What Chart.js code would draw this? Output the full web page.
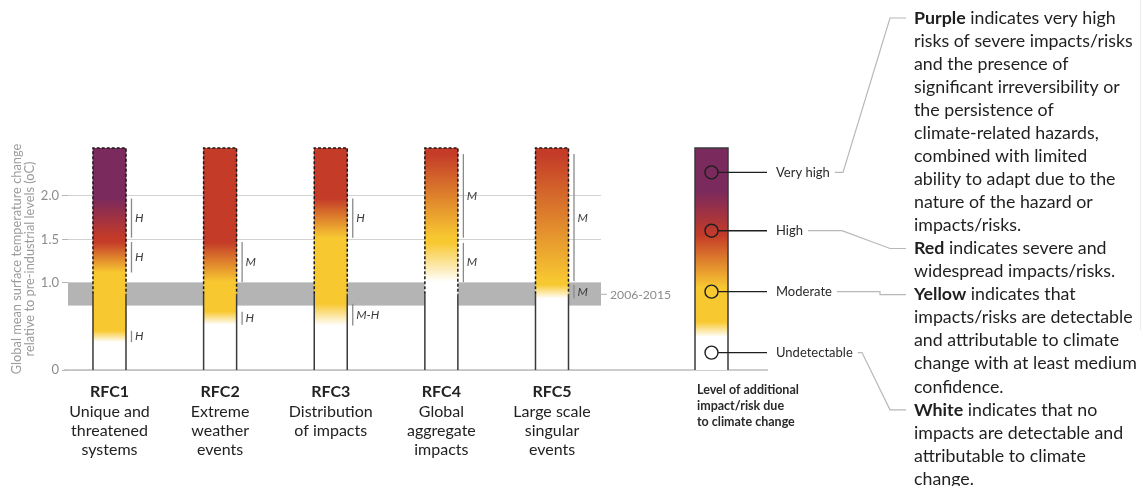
<!DOCTYPE html>
<html>
<head>
<meta charset="utf-8">
<script src="https://cdn.jsdelivr.net/npm/chart.js@4.4.1/dist/chart.umd.min.js"></script>
<style>
  html, body { margin: 0; padding: 0; background: #ffffff; }
  #wrap { position: relative; width: 1146px; height: 486px; }
</style>
</head>
<body>
<div id="wrap"><canvas id="rfc" width="1146" height="486"></canvas></div>
<script>
// Reasons for concern (RFC) and their labels
const categories = ['RFC1', 'RFC2', 'RFC3', 'RFC4', 'RFC5'];
const descriptions = [
  ['Unique and', 'threatened', 'systems'],
  ['Extreme', 'weather', 'events'],
  ['Distribution', 'of impacts'],
  ['Global', 'aggregate', 'impacts'],
  ['Large scale', 'singular', 'events']
];
// upper end of each bar (°C)
const barTop = [2.55, 2.55, 2.55, 2.55, 2.55];
// temperature ranges (°C) over which the risk level changes
const whiteToYellow = [[0.32, 0.45], [0.52, 0.67], [0.51, 0.76], [1.01, 1.46], [0.82, 0.98]];
const yellowToRed   = [[1.12, 1.47], [1.01, 1.47], [1.52, 1.97], [1.52, 2.48], [1.02, 2.48]];
const redToPurple   = [[1.52, 1.97], null, null, null, null];
// confidence in each transition
const confWhiteYellow = ['H', 'H', 'M-H', 'M', 'M'];
const confYellowRed   = ['H', 'M', 'H', 'M', 'M'];
const confRedPurple   = ['H', null, null, null, null];
// axis ticks and observed warming band
const yTicks = [0, 1.0, 1.5, 2.0];
const observedRange = [0.74, 1.0];
const observedLabel = '2006-2015';
const presentLevel = 0.87;
// risk level key
const levelNames  = ['Very high', 'High', 'Moderate', 'Undetectable'];
const levelValues = [2.27, 1.60, 0.90, 0.20];

const WHITE = '#ffffff', YELLOW = '#f8c831', RED = '#c43b28', PURPLE = '#7b2a5d';
const FONT = 'Lato, "Open Sans", sans-serif';

function riskGradient(c, yScale, i) {
  const top = barTop[i];
  const g = c.createLinearGradient(0, yScale.getPixelForValue(0), 0, yScale.getPixelForValue(top));
  const f = v => Math.min(1, Math.max(0, v / top));
  g.addColorStop(0, WHITE);
  g.addColorStop(f(whiteToYellow[i][0]), WHITE);
  g.addColorStop(f(whiteToYellow[i][1]), YELLOW);
  g.addColorStop(f(yellowToRed[i][0]), YELLOW);
  g.addColorStop(f(yellowToRed[i][1]), RED);
  if (redToPurple[i]) {
    g.addColorStop(f(redToPurple[i][0]), RED);
    g.addColorStop(f(redToPurple[i][1]), PURPLE);
    g.addColorStop(1, PURPLE);
  } else {
    g.addColorStop(1, RED);
  }
  return g;
}

const riskText = [
  { bold: 'Purple', first: ' indicates very high', rest: ['risks of severe impacts/risks', 'and the presence of', 'significant irreversibility or', 'the persistence of', 'climate-related hazards,', 'combined with limited', 'ability to adapt due to the', 'nature of the hazard or', 'impacts/risks.'] },
  { bold: 'Red', first: ' indicates severe and', rest: ['widespread impacts/risks.'] },
  { bold: 'Yellow', first: ' indicates that', rest: ['impacts/risks are detectable', 'and attributable to climate', 'change with at least medium', 'confidence.'] },
  { bold: 'White', first: ' indicates that no', rest: ['impacts are detectable and', 'attributable to climate', 'change.'] }
];

const decor = {
  id: 'rfcDecor',
  beforeDatasetsDraw(chart) {
    const { ctx, scales: { y } } = chart;
    const left = chart.chartArea.left, right = chart.chartArea.right;
    ctx.save();
    ctx.fillStyle = '#b4b4b4';
    const yA = y.getPixelForValue(observedRange[1]), yB = y.getPixelForValue(observedRange[0]);
    ctx.fillRect(left, yA, right - left, yB - yA);
    ctx.restore();
  },
  afterDatasetsDraw(chart) {
    const { ctx, scales: { y } } = chart;
    const meta = chart.getDatasetMeta(0);
    ctx.save();
    // baseline
    ctx.strokeStyle = '#bdbdbd';
    ctx.lineWidth = 1.5;
    ctx.beginPath();
    ctx.moveTo(chart.chartArea.left - 4, y.getPixelForValue(0));
    ctx.lineTo(768, y.getPixelForValue(0));
    ctx.stroke();

    meta.data.forEach((el, i) => {
      const l = el.x - el.width / 2, r = el.x + el.width / 2;
      const yb = y.getPixelForValue(0), yp = y.getPixelForValue(presentLevel), yt = y.getPixelForValue(barTop[i]);
      // solid sides up to present warming
      ctx.setLineDash([]);
      ctx.strokeStyle = '#3a3a3a';
      ctx.lineWidth = 1.5;
      ctx.beginPath();
      ctx.moveTo(l, yb); ctx.lineTo(l, yp);
      ctx.moveTo(r, yb); ctx.lineTo(r, yp);
      ctx.stroke();
      // dashed sides and top above
      ctx.setLineDash([3, 2]);
      ctx.strokeStyle = '#1a1a1a';
      ctx.beginPath();
      ctx.moveTo(l, yp); ctx.lineTo(l, yt); ctx.lineTo(r, yt); ctx.lineTo(r, yp);
      ctx.stroke();
      ctx.setLineDash([]);

      // confidence markers
      const marks = [[whiteToYellow[i], confWhiteYellow[i]], [yellowToRed[i], confYellowRed[i]], [redToPurple[i], confRedPurple[i]]];
      marks.forEach(([rng, lab]) => {
        if (!rng || !lab) return;
        const x = r + 5.5;
        const y0 = y.getPixelForValue(rng[0]), y1 = y.getPixelForValue(rng[1]);
        ctx.strokeStyle = '#8a8a8a';
        ctx.lineWidth = 1.3;
        ctx.beginPath(); ctx.moveTo(x, y0); ctx.lineTo(x, y1); ctx.stroke();
        ctx.fillStyle = '#3c3c3c';
        ctx.font = 'italic 12px ' + FONT;
        ctx.textAlign = 'left';
        ctx.textBaseline = 'middle';
        ctx.fillText(lab, x + 3.5, (y0 + y1) / 2);
      });

      // category labels
      ctx.fillStyle = '#222';
      ctx.textAlign = 'center';
      ctx.textBaseline = 'middle';
      ctx.font = 'bold 16px ' + FONT;
      ctx.fillText(categories[i], el.x, 392);
      ctx.font = '16px ' + FONT;
      descriptions[i].forEach((t, k) => ctx.fillText(t, el.x, 411.5 + k * 19));
    });

    // observed band label
    const yMid = y.getPixelForValue((observedRange[0] + observedRange[1]) / 2);
    ctx.strokeStyle = '#b0b0b0';
    ctx.lineWidth = 1;
    ctx.beginPath(); ctx.moveTo(chart.chartArea.right, yMid); ctx.lineTo(chart.chartArea.right + 6, yMid); ctx.stroke();
    ctx.fillStyle = '#8c8c8c';
    ctx.font = '12.2px ' + FONT;
    ctx.textAlign = 'left';
    ctx.fillText(observedLabel, chart.chartArea.right + 9, yMid + 1);

    // risk level key
    const kl = 695, kr = 728, kx = (kl + kr) / 2;
    const kTop = y.getPixelForValue(barTop[0]), kBot = y.getPixelForValue(0);
    const kg = ctx.createLinearGradient(0, kBot, 0, kTop);
    const kf = v => v / barTop[0];
    kg.addColorStop(0, WHITE);
    kg.addColorStop(kf(0.38), WHITE);
    kg.addColorStop(kf(0.55), YELLOW);
    kg.addColorStop(kf(0.95), YELLOW);
    kg.addColorStop(kf(1.55), RED);
    kg.addColorStop(kf(2.05), PURPLE);
    kg.addColorStop(1, PURPLE);
    ctx.fillStyle = kg;
    ctx.fillRect(kl, kTop, kr - kl, kBot - kTop);
    ctx.strokeStyle = '#3a3a3a';
    ctx.lineWidth = 1.5;
    ctx.beginPath();
    ctx.moveTo(kl, kBot); ctx.lineTo(kl, kTop); ctx.lineTo(kr, kTop); ctx.lineTo(kr, kBot);
    ctx.stroke();

    ctx.font = '13px ' + FONT;
    const leaderEnds = [];
    levelNames.forEach((name, k) => {
      const cy = y.getPixelForValue(levelValues[k]);
      ctx.strokeStyle = '#1e1e1e';
      ctx.lineWidth = 1.4;
      ctx.beginPath(); ctx.arc(kx, cy, 6.5, 0, Math.PI * 2); ctx.stroke();
      ctx.beginPath(); ctx.moveTo(kx + 6.5, cy); ctx.lineTo(767, cy); ctx.stroke();
      ctx.fillStyle = '#2a2a2a';
      ctx.textAlign = 'left';
      ctx.textBaseline = 'middle';
      ctx.fillText(name, 776, cy);
      leaderEnds.push([776 + ctx.measureText(name).width + 5, cy]);
    });

    ctx.fillStyle = '#2a2a2a';
    ctx.font = 'bold 12.5px ' + FONT;
    ['Level of additional', 'impact/risk due', 'to climate change'].forEach((t, k) => ctx.fillText(t, 697, 390 + k * 16));

    // explanatory text
    const tx = 914, lh = 23.05, ty0 = 18;
    let line = 0;
    const blockLine = [];
    ctx.textBaseline = 'middle';
    riskText.forEach(b => {
      blockLine.push(ty0 + line * lh);
      ctx.fillStyle = '#1f1f1f';
      ctx.font = 'bold 17.8px ' + FONT;
      ctx.fillText(b.bold, tx, ty0 + line * lh);
      const w = ctx.measureText(b.bold).width;
      ctx.font = '17.8px ' + FONT;
      ctx.fillText(b.first, tx + w, ty0 + line * lh);
      line++;
      b.rest.forEach(t => { ctx.fillText(t, tx, ty0 + line * lh); line++; });
    });

    // leader lines from key labels to text blocks
    ctx.strokeStyle = '#b8b8b8';
    ctx.lineWidth = 1.2;
    const elbows = [[843, 890], [842, 890], [880, 880], [862, 890]];
    leaderEnds.forEach(([sx, sy], k) => {
      const ey = blockLine[k];
      ctx.beginPath();
      ctx.moveTo(sx, sy);
      ctx.lineTo(elbows[k][0], sy);
      ctx.lineTo(elbows[k][1], ey);
      ctx.lineTo(906, ey);
      ctx.stroke();
    });
    ctx.strokeStyle = '#ececec';
    ctx.beginPath(); ctx.moveTo(1140.5, 0); ctx.lineTo(1140.5, 330); ctx.stroke();
    ctx.restore();
  }
};

new Chart(document.getElementById('rfc'), {
  type: 'bar',
  data: {
    datasets: [{
      data: categories.map((c, i) => ({ x: i, y: barTop[i] })),
      backgroundColor: (ctx) => {
        const ch = ctx.chart;
        if (!ch.chartArea) return WHITE;
        return riskGradient(ch.ctx, ch.scales.y, ctx.dataIndex);
      },
      borderWidth: 0,
      barThickness: 33
    }]
  },
  options: {
    responsive: false,
    animation: false,
    events: [],
    layout: { padding: { left: 0, right: 545, top: 148, bottom: 116 } },
    plugins: { legend: { display: false }, tooltip: { enabled: false } },
    scales: {
      x: { type: 'linear', min: -0.375, max: 4.443, offset: false, display: false, grid: { offset: false } },
      y: {
        min: 0, max: 2.55,
        afterBuildTicks: s => { s.ticks = yTicks.map(v => ({ value: v })); },
        afterFit: s => { s.width = 68; },
        border: { display: false },
        grid: { color: '#d2d2d2', lineWidth: 1, drawTicks: true, tickLength: 6, tickColor: '#b5b5b5' },
        ticks: {
          color: '#8c8c8c', padding: 3,
          font: { family: FONT, size: 13 },
          callback: v => (v === 0 ? '0' : Number(v).toFixed(1))
        },
        title: {
          display: true,
          text: ['Global mean surface temperature change', 'relative to pre-industrial levels (oC)'],
          color: '#9b9b9b',
          font: { family: FONT, size: 12.8, lineHeight: 1.02 },
          padding: { top: 10.5, bottom: 0 }
        }
      }
    }
  },
  plugins: [decor]
});
</script>
</body>
</html>
